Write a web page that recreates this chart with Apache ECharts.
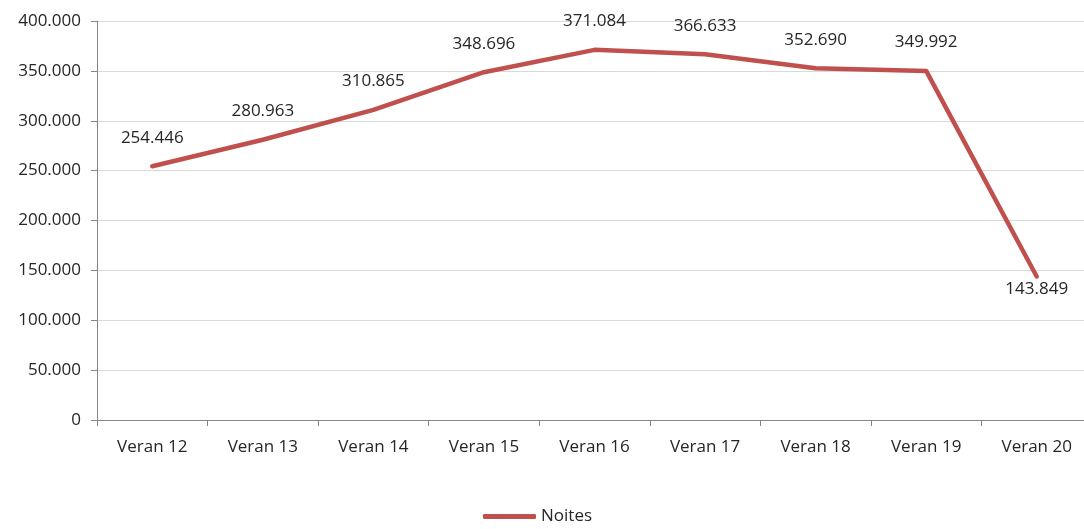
<!DOCTYPE html>
<html>
<head>
<meta charset="utf-8">
<script src="https://cdn.jsdelivr.net/npm/echarts@6/dist/echarts.min.js"></script>
<style>
  html, body { margin: 0; padding: 0; background: #fff; }
  #chart { width: 1084px; height: 529px; }
</style>
</head>
<body>
<div id="chart"></div>
<script>
// categories and values
const categories = ["Veran 12", "Veran 13", "Veran 14", "Veran 15", "Veran 16", "Veran 17", "Veran 18", "Veran 19", "Veran 20"];
const noites = [254446, 280963, 310865, 348696, 371084, 366633, 352690, 349992, 143849];
const seriesName = "Noites";

// 254446 -> "254.446"
function fmt(v) {
  return String(Math.round(v)).replace(/\B(?=(\d{3})+(?!\d))/g, ".");
}

const lineColor = "#C0504D";
const textColor = "#262626";
const fontFamily = "'Open Sans', 'Noto Sans', sans-serif";
const fs = 17;

const pointData = noites.map(function (v, i) {
  if (i === noites.length - 1) {
    return { value: v, label: { position: "bottom", distance: 3 } };
  }
  return v;
});

let myChart = echarts.init(document.getElementById("chart"));
let option = {
  animation: false,
  textStyle: { fontFamily: fontFamily },
  // the plot runs a little past the right edge of the picture
  grid: { left: 97, right: -8, top: 21, bottom: 109, outerBoundsMode: "none", containLabel: false },
  legend: {
    top: 503,
    left: 478,
    icon: "roundRect",
    itemWidth: 53,
    itemHeight: 5,
    itemGap: 10,
    textStyle: { fontSize: fs, color: textColor, fontFamily: fontFamily },
    data: [seriesName]
  },
  xAxis: {
    type: "category",
    boundaryGap: true,
    data: categories,
    axisLine: { lineStyle: { color: "#868686", width: 1 } },
    axisTick: { show: true, length: 6, alignWithLabel: false, lineStyle: { color: "#868686" } },
    axisLabel: { fontSize: fs, color: textColor, margin: 19, fontFamily: fontFamily }
  },
  yAxis: {
    type: "value",
    min: 0,
    max: 400000,
    interval: 50000,
    axisLine: { show: true, lineStyle: { color: "#868686", width: 1 } },
    axisTick: { show: true, length: 6, lineStyle: { color: "#868686" } },
    splitLine: { lineStyle: { color: "#D9D9D9", width: 1 } },
    axisLabel: {
      fontSize: fs,
      color: textColor,
      margin: 16,
      fontFamily: fontFamily,
      formatter: function (v) { return fmt(v); }
    }
  },
  series: [
    {
      name: seriesName,
      type: "line",
      data: pointData,
      showSymbol: true,
      symbol: "circle",
      symbolSize: 2,
      lineStyle: { color: lineColor, width: 4.5, cap: "round", join: "round" },
      itemStyle: { color: lineColor },
      label: {
        show: true,
        position: "top",
        distance: 19,
        fontSize: fs,
        color: textColor,
        fontFamily: fontFamily,
        formatter: function (p) { return fmt(p.value); }
      }
    }
  ]
};
myChart.setOption(option);
</script>
</body>
</html>
